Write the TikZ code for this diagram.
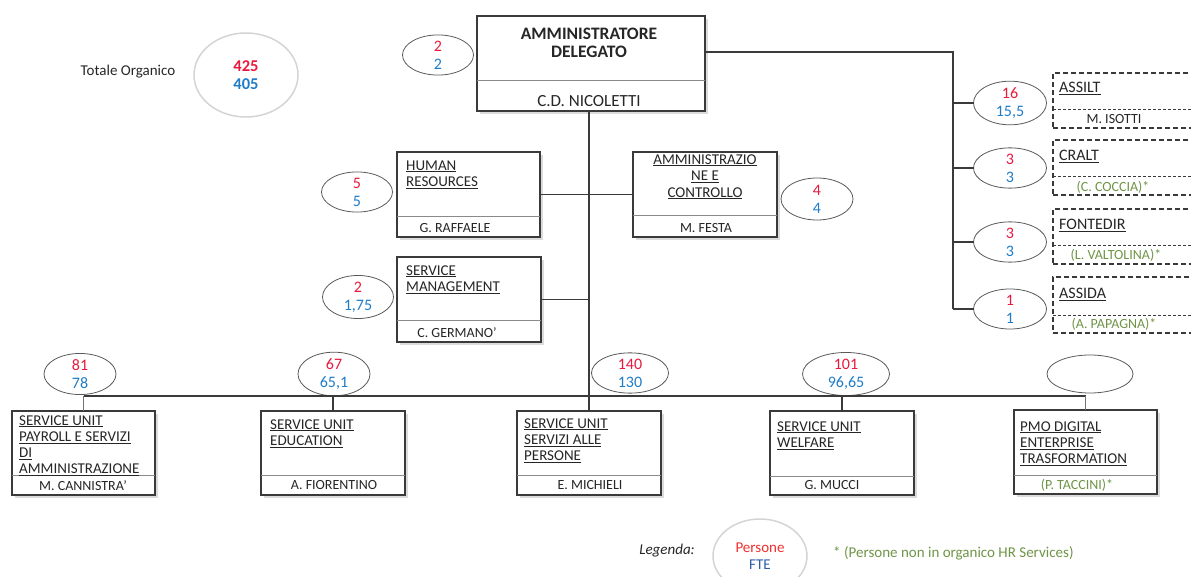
\documentclass[tikz,border=0pt]{standalone}
\usepackage{fontspec}
\setmainfont{Carlito}
\usetikzlibrary{shapes.geometric,shadows}
\definecolor{nred}{HTML}{E8193C}
\definecolor{nblue}{HTML}{1F7CC8}
\definecolor{ngreen}{HTML}{6F9446}
\definecolor{nline}{HTML}{3A3A3A}
\definecolor{ndiv}{HTML}{8A8A8A}
\definecolor{ntext}{HTML}{262626}
\definecolor{lred}{HTML}{F22E2E}
\definecolor{lblue}{HTML}{2F5EA6}
\definecolor{lgray}{HTML}{D4D4D4}
\newcommand\unl[1]{\underline{#1}}
\newcommand\twonum[2]{\textcolor{nred}{#1}\\\textcolor{nblue}{#2}}
\begin{document}
\begin{tikzpicture}[x=1pt,y=-1pt,
  every node/.style={font=\fontsize{14}{16}\selectfont, text=ntext},
  unitbox/.style={draw=nline, line width=1.4pt, fill=white, rectangle, inner sep=0pt, outer sep=0pt, anchor=north west,
    drop shadow={shadow xshift=3pt, shadow yshift=-3pt, fill=black!14, opacity=1}},
  dbox/.style={draw=nline, line width=1.2pt, dash pattern=on 5pt off 3pt, rectangle, inner sep=0pt, outer sep=0pt, anchor=north west},
  ddiv/.style={draw=nline, line width=1pt, dash pattern=on 3pt off 2pt},
  divline/.style={draw=ndiv, line width=0.9pt},
  conn/.style={draw=nline, line width=1.4pt},
  num/.style={ellipse, draw=black!65, line width=0.8pt, inner sep=0pt, outer sep=0pt, align=center, font=\fontsize{16}{18}\selectfont},
  ttl/.style={anchor=north west, inner sep=0pt, align=left, font=\fontsize{15}{16.2}\selectfont},
  ttc/.style={anchor=north, inner sep=0pt, align=center, font=\fontsize{15}{16.5}\selectfont},
  rtl/.style={anchor=north west, inner sep=0pt, align=left, font=\fontsize{16}{18}\selectfont},
  nm/.style={inner sep=0pt},
  gnm/.style={inner sep=0pt, text=ngreen}]
\clip (0,0) rectangle (1191,577);

% ---- Totale organico
\node[inner sep=0pt, font=\fontsize{15}{16}\selectfont] (totl) at (128,72) {Totale Organico};
\node[num, draw=lgray, line width=1.5pt, minimum width=104pt, minimum height=84pt, font=\fontsize{16.5}{18}\selectfont\bfseries] (tot) at (246,75) {\twonum{425}{405}};

% ---- boxes
\node[unitbox, minimum width=228pt, minimum height=95pt] (ad) at (477,16) {};
\node[unitbox, minimum width=143pt, minimum height=85pt] (hr) at (397,152) {};
\node[unitbox, minimum width=144pt, minimum height=85pt] (amm) at (633,152) {};
\node[unitbox, minimum width=144pt, minimum height=85pt] (sm) at (397,257) {};
\node[unitbox, minimum width=143pt, minimum height=84pt] (pay) at (12,411) {};
\node[unitbox, minimum width=144pt, minimum height=84pt] (edu) at (261,411) {};
\node[unitbox, minimum width=144pt, minimum height=84pt] (ser) at (517,411) {};
\node[unitbox, minimum width=144pt, minimum height=84pt] (wel) at (770,411) {};
\node[unitbox, minimum width=143pt, minimum height=84pt] (pmo) at (1014,410) {};

\draw[divline] ([yshift=-64pt]ad.north west) -- ([yshift=-64pt]ad.north east);
\draw[divline] ([yshift=-64pt]hr.north west) -- ([yshift=-64pt]hr.north east);
\draw[divline] ([yshift=-63pt]amm.north west) -- ([yshift=-63pt]amm.north east);
\draw[divline] ([yshift=-63pt]sm.north west) -- ([yshift=-63pt]sm.north east);
\draw[divline] ([yshift=-64pt]pay.north west) -- ([yshift=-64pt]pay.north east);
\draw[divline] ([yshift=-64pt]edu.north west) -- ([yshift=-64pt]edu.north east);
\draw[divline] ([yshift=-64pt]ser.north west) -- ([yshift=-64pt]ser.north east);
\draw[divline] ([yshift=-65pt]wel.north west) -- ([yshift=-65pt]wel.north east);
\draw[divline] ([yshift=-65pt]pmo.north west) -- ([yshift=-65pt]pmo.north east);

% dashed boxes (right)
\node[dbox, minimum width=160pt, minimum height=55pt] (assilt) at (1053,73) {};
\node[dbox, minimum width=160pt, minimum height=55pt] (cralt) at (1053,140) {};
\node[dbox, minimum width=160pt, minimum height=55pt] (font) at (1053,209) {};
\node[dbox, minimum width=160pt, minimum height=56pt] (assida) at (1053,277) {};
\draw[ddiv] ([yshift=-37pt]assilt.north west) -- ([yshift=-37pt]assilt.north east);
\draw[ddiv] ([yshift=-37pt]cralt.north west) -- ([yshift=-37pt]cralt.north east);
\draw[ddiv] ([yshift=-37pt]font.north west) -- ([yshift=-37pt]font.north east);
\draw[ddiv] ([yshift=-38pt]assida.north west) -- ([yshift=-38pt]assida.north east);

% ---- titles
\node[inner sep=0pt, align=center, font=\fontsize{17.5}{17.5}\selectfont\bfseries] (adt) at (589,43) {AMMINISTRATORE\\DELEGATO};
\node[nm, font=\fontsize{17}{18}\selectfont] (adn) at (589,101) {C.D. NICOLETTI};

\node[ttl] (hrt) at (406,160.2) {\unl{HUMAN}\\\unl{RESOURCES}};
\node[nm] (hrn) at (455,228.5) {G. RAFFAELE};
\node[ttc] (ammt) at (705,154.2) {\unl{AMMINISTRAZIO}\\\unl{NE E}\\\unl{CONTROLLO}};
\node[nm] (ammn) at (706,228.5) {M. FESTA};
\node[ttl] (smt) at (406,265.2) {\unl{SERVICE}\\\unl{MANAGEMENT}};
\node[nm] (smn) at (457,333) {C. GERMANO'};

\node[ttl] (payt) at (19,415.2) {\unl{SERVICE UNIT}\\\unl{PAYROLL E SERVIZI}\\\unl{DI}\\\unl{AMMINISTRAZIONE}};
\node[nm] (payn) at (83,485.5) {M. CANNISTRA'};
\node[ttl] (edut) at (270,419.2) {\unl{SERVICE UNIT}\\\unl{EDUCATION}};
\node[nm] (edun) at (334,485.5) {A. FIORENTINO};
\node[ttl] (sert) at (524,418.2) {\unl{SERVICE UNIT}\\\unl{SERVIZI ALLE}\\\unl{PERSONE}};
\node[nm] (sern) at (590,485.5) {E. MICHIELI};
\node[ttl] (welt) at (777,421.2) {\unl{SERVICE UNIT}\\\unl{WELFARE}};
\node[nm] (weln) at (832,485.5) {G. MUCCI};
\node[ttl] (pmot) at (1020,421.2) {\unl{PMO DIGITAL}\\\unl{ENTERPRISE}\\\unl{TRASFORMATION}};
\node[gnm] (pmon) at (1077,485.5) {(P. TACCINI)*};

\node[rtl] (assiltt) at (1059,82) {\unl{ASSILT}};
\node[nm] (assiltn) at (1114,119) {M. ISOTTI};
\node[rtl] (craltt) at (1059,150) {\unl{CRALT}};
\node[gnm] (craltn) at (1113,187) {(C. COCCIA)*};
\node[rtl] (fontt) at (1059,219) {\unl{FONTEDIR}};
\node[gnm] (fontn) at (1116,255) {(L. VALTOLINA)*};
\node[rtl] (assidat) at (1059,288) {\unl{ASSIDA}};
\node[gnm] (assidan) at (1114,324) {(A. PAPAGNA)*};

% ---- number ellipses
\node[num, minimum width=71pt, minimum height=38pt] (ead) at (438,55) {\twonum{2}{2}};
\node[num, minimum width=71pt, minimum height=39pt] (ehr) at (357,192) {\twonum{5}{5}};
\node[num, minimum width=72pt, minimum height=42pt] (eamm) at (817,199) {\twonum{4}{4}};
\node[num, minimum width=71pt, minimum height=38pt] (esm) at (358,297) {\twonum{2}{1,75}};
\node[num, minimum width=73pt, minimum height=40pt] (eassilt) at (1010,103) {\twonum{16}{15,5}};
\node[num, minimum width=73pt, minimum height=40pt] (ecralt) at (1010,168) {\twonum{3}{3}};
\node[num, minimum width=73pt, minimum height=40pt] (efont) at (1010,242) {\twonum{3}{3}};
\node[num, minimum width=73pt, minimum height=40pt] (eassida) at (1010,309) {\twonum{1}{1}};
\node[num, minimum width=72pt, minimum height=38pt] (epay) at (80,374) {\twonum{81}{78}};
\node[num, minimum width=72pt, minimum height=38pt] (eedu) at (334,374) {\twonum{67}{65,1}};
\node[num, minimum width=77pt, minimum height=39pt] (eser) at (630,373) {\twonum{140}{130}};
\node[num, minimum width=87pt, minimum height=38pt] (ewel) at (846,374) {\twonum{101}{96,65}};
\node[num, minimum width=86pt, minimum height=38pt] (epmo) at (1090,374) {};

% ---- connectors
\coordinate (rt) at (953,52);
\coordinate (rb) at (953,309);
\draw[conn] (ad.east |- rt) -- (rt) -- (rb);
\draw[conn] (rt |- eassilt.west) -- (eassilt.west);
\draw[conn] (rt |- ecralt.west) -- (ecralt.west);
\draw[conn] (rt |- efont.west) -- (efont.west);
\draw[conn] (rb) -- (eassida.west);

\draw[conn] (ser.north) -- (ser.north |- ad.south);
\draw[conn] (hr.east) -- (amm.west);
\draw[conn] (sm.east) -- (sm.east -| ser.north);

\coordinate (busl) at (83.5,396);
\coordinate (busr) at (1085.5,396);
\draw[conn] (busl) -- (busr);
\draw[conn, draw=black!55] (pay.north) -- (pay.north |- busl);
\draw[conn] (edu.north) -- (edu.north |- busl);
\draw[conn] (wel.north) -- (wel.north |- busl);
\draw[conn, draw=black!55] (pmo.north) -- (pmo.north |- busl);

% ---- legend
\node[inner sep=0pt, font=\fontsize{15}{16}\selectfont\itshape] (legt) at (667,551) {Legenda:};
\node[num, draw=lgray, line width=1.5pt, minimum width=94pt, minimum height=74pt, font=\fontsize{15}{16.5}\selectfont] (leg) at (760,556) {\textcolor{lred}{Persone}\\\textcolor{lblue}{FTE}};
\node[gnm, anchor=west, font=\fontsize{15}{16}\selectfont] (legn) at (833,553) {* (Persone non in organico HR Services)};
\end{tikzpicture}
\end{document}
